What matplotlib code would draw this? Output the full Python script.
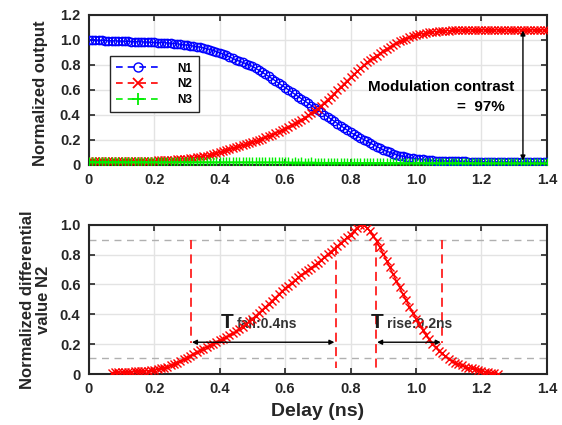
import numpy as np
import matplotlib
matplotlib.use("Agg")
import matplotlib.pyplot as plt
from matplotlib.lines import Line2D
from matplotlib import transforms

plt.rcParams['font.family'] = ['Liberation Sans', 'DejaVu Sans']
plt.rcParams['font.weight'] = 'bold'

# ---------------- data ----------------
n1 = [1.000, 0.999, 0.998, 0.997, 0.996, 0.995, 0.994, 0.993, 0.992, 0.991,
      0.990, 0.989, 0.988, 0.987, 0.986, 0.985, 0.984, 0.983, 0.982, 0.981,
      0.980, 0.979, 0.978, 0.977, 0.976, 0.974, 0.971, 0.968, 0.965, 0.962,
      0.958, 0.954, 0.950, 0.946, 0.942, 0.937, 0.930, 0.923, 0.915, 0.907,
      0.898, 0.887, 0.876, 0.864, 0.852, 0.840, 0.830, 0.820, 0.810, 0.800,
      0.788, 0.773, 0.757, 0.741, 0.725, 0.708, 0.691, 0.673, 0.655, 0.637,
      0.619, 0.601, 0.583, 0.565, 0.547, 0.529, 0.511, 0.493, 0.475, 0.457,
      0.439, 0.421, 0.403, 0.385, 0.367, 0.349, 0.331, 0.313, 0.295, 0.277,
      0.260, 0.245, 0.231, 0.217, 0.203, 0.189, 0.175, 0.161, 0.147, 0.133,
      0.120, 0.110, 0.100, 0.091, 0.083, 0.075, 0.069, 0.063, 0.058, 0.054,
      0.050, 0.047, 0.044, 0.041, 0.038, 0.036, 0.034, 0.033, 0.032, 0.031,
      0.030, 0.030, 0.029, 0.029, 0.028, 0.028, 0.027, 0.027, 0.026, 0.026,
      0.025, 0.025, 0.025, 0.024, 0.024, 0.024, 0.023, 0.023, 0.023, 0.022,
      0.022, 0.022, 0.022, 0.021, 0.021, 0.021, 0.021, 0.020, 0.020, 0.020, 0.020]

n2 = [0.030, 0.030, 0.030, 0.030, 0.030, 0.031, 0.031, 0.031, 0.031, 0.031,
      0.032, 0.032, 0.032, 0.032, 0.033, 0.033, 0.033, 0.034, 0.034, 0.034,
      0.035, 0.036, 0.037, 0.038, 0.039, 0.040, 0.042, 0.044, 0.046, 0.048,
      0.050, 0.053, 0.057, 0.061, 0.065, 0.070, 0.075, 0.081, 0.087, 0.093,
      0.100, 0.108, 0.116, 0.124, 0.132, 0.140, 0.148, 0.156, 0.164, 0.172,
      0.180, 0.190, 0.200, 0.210, 0.220, 0.230, 0.242, 0.254, 0.266, 0.278,
      0.290, 0.304, 0.318, 0.332, 0.346, 0.360, 0.378, 0.396, 0.414, 0.432,
      0.450, 0.474, 0.498, 0.522, 0.546, 0.570, 0.596, 0.622, 0.648, 0.674,
      0.700, 0.724, 0.748, 0.772, 0.796, 0.820, 0.838, 0.856, 0.874, 0.892,
      0.910, 0.926, 0.942, 0.958, 0.974, 0.990, 1.000, 1.010, 1.020, 1.030,
      1.040, 1.045, 1.050, 1.055, 1.060, 1.065, 1.067, 1.069, 1.071, 1.073,
      1.075, 1.076, 1.077, 1.078, 1.079, 1.080, 1.080, 1.080, 1.080, 1.080,
      1.080, 1.080, 1.080, 1.080, 1.080, 1.080, 1.080, 1.080, 1.080, 1.080,
      1.080, 1.080, 1.080, 1.080, 1.080, 1.080, 1.080, 1.080, 1.080, 1.080, 1.080]

n3 = [0.025, 0.026, 0.025, 0.024, 0.025, 0.026, 0.025, 0.024, 0.025, 0.025,
      0.024, 0.025, 0.024, 0.025, 0.024, 0.024, 0.025, 0.024, 0.024, 0.024,
      0.023, 0.024, 0.023, 0.024, 0.023, 0.023, 0.024, 0.023, 0.023, 0.023,
      0.022, 0.023, 0.022, 0.023, 0.022, 0.022, 0.023, 0.022, 0.022, 0.022,
      0.022, 0.021, 0.022, 0.021, 0.022, 0.021, 0.021, 0.022, 0.021, 0.021,
      0.021, 0.020, 0.021, 0.020, 0.021, 0.020, 0.020, 0.021, 0.020, 0.020,
      0.020, 0.020, 0.019, 0.020, 0.019, 0.020, 0.019, 0.019, 0.020, 0.019,
      0.019, 0.019, 0.018, 0.019, 0.018, 0.019, 0.018, 0.018, 0.019, 0.018,
      0.018, 0.018, 0.018, 0.017, 0.018, 0.017, 0.018, 0.017, 0.017, 0.018,
      0.017, 0.017, 0.017, 0.017, 0.016, 0.017, 0.016, 0.017, 0.016, 0.016,
      0.017, 0.016, 0.016, 0.016, 0.016, 0.016, 0.015, 0.016, 0.015, 0.016,
      0.015, 0.015, 0.016, 0.015, 0.015, 0.015, 0.015, 0.015, 0.014, 0.015,
      0.014, 0.015, 0.014, 0.015, 0.014, 0.014, 0.015, 0.014, 0.014, 0.014,
      0.014, 0.014, 0.013, 0.014, 0.013, 0.014, 0.013, 0.014, 0.013, 0.013, 0.013]

diff_n2 = [0.010, 0.011, 0.012, 0.013, 0.014, 0.015, 0.016, 0.017, 0.018, 0.019,
           0.020, 0.022, 0.025, 0.028, 0.032, 0.037, 0.043, 0.050, 0.058, 0.067,
           0.077, 0.087, 0.098, 0.110, 0.122, 0.134, 0.146, 0.158, 0.170, 0.181,
           0.192, 0.203, 0.214, 0.225, 0.236, 0.247, 0.259, 0.272, 0.285, 0.301,
           0.318, 0.335, 0.352, 0.370, 0.390, 0.410, 0.430, 0.450, 0.470, 0.491,
           0.512, 0.533, 0.554, 0.575, 0.593, 0.611, 0.629, 0.647, 0.665, 0.681,
           0.697, 0.713, 0.729, 0.745, 0.764, 0.783, 0.802, 0.821, 0.840, 0.859,
           0.878, 0.897, 0.916, 0.935, 0.958, 0.982, 1.000, 0.996, 0.980, 0.956,
           0.925, 0.889, 0.848, 0.805, 0.760, 0.715, 0.670, 0.625, 0.580, 0.536,
           0.494, 0.452, 0.411, 0.372, 0.334, 0.298, 0.264, 0.232, 0.202, 0.178,
           0.157, 0.138, 0.119, 0.102, 0.088, 0.076, 0.066, 0.057, 0.050, 0.043,
           0.037, 0.031, 0.026, 0.021, 0.016, 0.012, 0.008, 0.004, 0.001]

delay_top = np.linspace(0.0, 1.4, len(n1))
delay_bot = np.linspace(0.07, 1.25, len(diff_n2))

x_ticks = [0, 0.2, 0.4, 0.6, 0.8, 1.0, 1.2, 1.4]
x_tick_labels = ['0', '0.2', '0.4', '0.6', '0.8', '1.0', '1.2', '1.4']
y1_ticks = [0, 0.2, 0.4, 0.6, 0.8, 1.0, 1.2]
y1_tick_labels = ['0', '0.2', '0.4', '0.6', '0.8', '1.0', '1.2']
y2_ticks = [0, 0.2, 0.4, 0.6, 0.8, 1.0]
y2_tick_labels = ['0', '0.2', '0.4', '0.6', '0.8', '1.0']

series_labels = ['N1', 'N2', 'N3']
threshold_levels = [0.9, 0.11]
fall_marks = [0.311, 0.755]
rise_marks = [0.877, 1.080]
contrast_top, contrast_bottom = 1.075, 0.035

TXT = '#262626'

# ---------------- figure ----------------
fig = plt.figure(figsize=(5.62, 4.25), dpi=100)
ax1 = fig.add_axes([0.158, 0.612, 0.815, 0.353])
ax2 = fig.add_axes([0.158, 0.120, 0.815, 0.351])

for ax in (ax1, ax2):
    ax.set_xlim(0, 1.4)
    ax.grid(True, color='#e3e3e3', lw=1.0)
    ax.set_axisbelow(True)
    ax.tick_params(direction='in', top=True, right=True, length=4, width=1.2,
                   labelsize=10.5, colors=TXT, pad=6)
    for sp in ax.spines.values():
        sp.set_color(TXT)
        sp.set_linewidth(1.5)

# top panel
ax1.set_ylim(0, 1.2)
ax1.set_xticks(x_ticks)
ax1.set_xticklabels(x_tick_labels, fontweight='bold')
ax1.set_yticks(y1_ticks)
ax1.set_yticklabels(y1_tick_labels, fontweight='bold')

ax1.plot(delay_top, n1, color='#0000ff', lw=1.0, marker='o', ms=6, mew=1.0,
         mfc='none', ls='-', zorder=3)
ax1.plot(delay_top, n2, color='#ff0000', lw=1.0, marker='x', ms=5.5, mew=1.0,
         ls='-', zorder=4)
ax1.plot(delay_top, n3, color='#00ee00', lw=1.0, marker='+', ms=7.5, mew=1.0,
         ls='-', zorder=5)

handles = [
    Line2D([], [], color='#0000ff', ls=(0, (4, 3)), lw=1.2, marker='o', ms=6.5,
           mfc='none', mew=1.0),
    Line2D([], [], color='#ff0000', ls=(0, (4, 3)), lw=1.2, marker='x', ms=6.5,
           mew=1.3),
    Line2D([], [], color='#00ee00', ls=(0, (4, 3)), lw=1.2, marker='+', ms=9,
           mew=1.3),
]
leg = ax1.legend(handles, series_labels, loc='upper left',
                 bbox_to_anchor=(0.046, 0.725), fancybox=False, framealpha=1,
                 edgecolor=TXT, prop={'weight': 'bold', 'size': 8.5},
                 handlelength=3.7, handletextpad=1.5, borderpad=0.55,
                 labelspacing=0.3, borderaxespad=0)
leg.get_frame().set_linewidth(1.0)

ax1.annotate('', xy=(1.327, contrast_top), xytext=(1.327, contrast_bottom),
             arrowprops=dict(arrowstyle='<|-|>', color='black', lw=1.0,
                             mutation_scale=7, shrinkA=0, shrinkB=0), zorder=6)
ax1.text(0.852, 0.59, 'Modulation contrast', fontsize=11, fontweight='bold',
         color='black', ha='left', va='baseline')
ax1.text(1.125, 0.43, '=  97%', fontsize=11, fontweight='bold',
         color='black', ha='left', va='baseline')

ax1.set_ylabel('Normalized output', fontsize=12, fontweight='bold', color=TXT)
ax1.yaxis.set_label_coords(-0.088, 0.48)

# bottom panel
ax2.set_ylim(0, 1.0)
ax2.set_xticks(x_ticks)
ax2.set_xticklabels(x_tick_labels, fontweight='bold')
ax2.set_yticks(y2_ticks)
ax2.set_yticklabels(y2_tick_labels, fontweight='bold')

for lvl in threshold_levels:
    ax2.axhline(lvl, color='#b0b0b0', lw=1.0, ls=(0, (5, 4)), zorder=2)

ax2.plot(delay_bot, diff_n2, color='#ff0000', lw=1.0, marker='x', ms=6,
         mew=1.0, zorder=4)

ax2.plot([fall_marks[0]] * 2, [0.9, 0.21], color='#ff2020', lw=1.3,
         ls=(0, (5, 3)), zorder=3)
ax2.plot([fall_marks[1]] * 2, [0.86, 0.04], color='#ff2020', lw=1.3,
         ls=(0, (5, 3)), zorder=3)
ax2.plot([rise_marks[0]] * 2, [0.88, 0.04], color='#ff2020', lw=1.3,
         ls=(0, (5, 3)), zorder=3)
ax2.plot([rise_marks[1]] * 2, [0.9, 0.21], color='#ff2020', lw=1.3,
         ls=(0, (5, 3)), zorder=3)

for a, b in (fall_marks, rise_marks):
    ax2.annotate('', xy=(a, 0.213), xytext=(b, 0.213),
                 arrowprops=dict(arrowstyle='<|-|>', color='black', lw=1.0,
                                 mutation_scale=7, shrinkA=1, shrinkB=1),
                 zorder=6)

for xt, sub in ((0.402, 'fall:0.4ns'), (0.863, 'rise:0.2ns')):
    ax2.text(xt, 0.307, 'T', fontsize=15, fontweight='bold', color='#1a1a1a',
             ha='left', va='baseline')
    tr = transforms.offset_copy(ax2.transData, fig=fig, x=11.5, y=0,
                                units='points')
    ax2.text(xt, 0.307, sub, fontsize=10, fontweight='bold', color='#333333',
             ha='left', va='baseline', transform=tr)

ax2.set_ylabel('Normalized differential\nvalue N2', fontsize=12,
               fontweight='bold', color=TXT, linespacing=1.1)
ax2.yaxis.set_label_coords(-0.083, 0.5)
ax2.set_xlabel('Delay (ns)', fontsize=14, fontweight='bold', color=TXT,
               labelpad=5)

fig.savefig('out.png', dpi=100)
